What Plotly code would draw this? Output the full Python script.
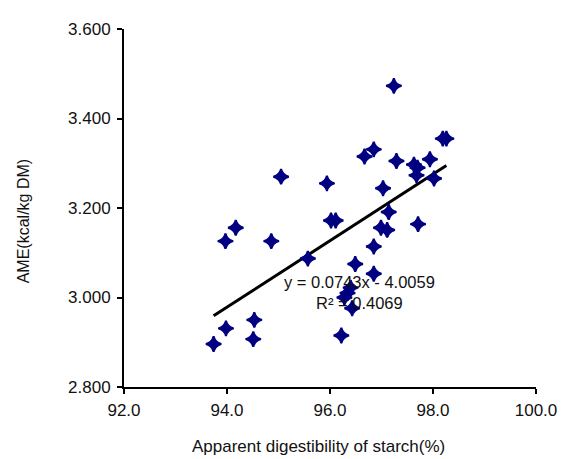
import plotly.graph_objects as go

# Apparent digestibility of starch (%)
starch_digestibility = [
    97.24, 98.19, 98.26, 96.85, 96.67, 97.29, 97.94, 97.63, 97.70, 97.68,
    98.02, 95.05, 95.94, 97.03, 96.02, 96.11, 97.14, 94.17, 96.99, 97.11,
    97.71, 93.97, 94.86, 96.85, 95.57, 96.49, 96.85, 96.28, 96.34, 96.40,
    96.43, 94.53, 93.98, 94.51, 96.22, 93.74,
]
# AME (kcal/kg DM)
ame_values = [
    3.473, 3.355, 3.355, 3.331, 3.315, 3.305, 3.309, 3.297, 3.290, 3.273,
    3.266, 3.270, 3.255, 3.244, 3.172, 3.172, 3.191, 3.156, 3.156, 3.151,
    3.164, 3.126, 3.126, 3.114, 3.087, 3.075, 3.053, 3.000, 3.010, 3.022,
    2.976, 2.950, 2.931, 2.907, 2.915, 2.896,
]

trend_slope = 0.0743
trend_intercept = -4.0059
equation_text = "y = 0.0743x - 4.0059"
r2_text = "R² = 0.4069"

x_title = "Apparent digestibility of starch(%)"
y_title = "AME(kcal/kg DM)"

x_lo, x_hi = min(starch_digestibility), max(starch_digestibility)
trend_x = [x_lo, x_hi]
trend_y = [trend_slope * v + trend_intercept for v in trend_x]

FONT = "Liberation Sans, Arial, sans-serif"
TXT = "#111111"

fig = go.Figure()
fig.add_trace(go.Scatter(
    x=trend_x, y=trend_y, mode="lines",
    line=dict(color="black", width=3),
    showlegend=False, hoverinfo="skip",
))
fig.add_trace(go.Scatter(
    x=starch_digestibility, y=ame_values, mode="markers",
    marker=dict(symbol="star-diamond", size=11, color="#000080",
                line=dict(width=2, color="#000080")),
    showlegend=False,
))

fig.add_annotation(x=96.58, y=3.034, xref="x", yref="y",
                   xanchor="center", yanchor="middle",
                   text=equation_text, showarrow=False,
                   font=dict(family=FONT, size=16.5, color=TXT))
fig.add_annotation(x=96.58, y=2.988, xref="x", yref="y",
                   xanchor="center", yanchor="middle",
                   text=r2_text, showarrow=False,
                   font=dict(family=FONT, size=16.5, color=TXT))

fig.add_annotation(x=0.4726, y=-0.165, xref="paper", yref="paper",
                   xanchor="center", yanchor="middle",
                   text=x_title, showarrow=False,
                   font=dict(family=FONT, size=17, color=TXT))
fig.add_annotation(x=-0.2434, y=0.462, xref="paper", yref="paper",
                   xanchor="center", yanchor="middle",
                   text=y_title, showarrow=False, textangle=-90,
                   font=dict(family=FONT, size=16, color=TXT))

fig.update_layout(
    width=561, height=451,
    margin=dict(l=116, r=26, t=12, b=72),
    paper_bgcolor="white", plot_bgcolor="white",
    font=dict(family=FONT, size=17, color=TXT),
)
fig.update_xaxes(
    range=[92, 100], dtick=2, tick0=92, tickformat=".1f",
    tickfont=dict(family=FONT, size=17, color=TXT),
    showgrid=False, zeroline=False, showline=True, linecolor="black",
    linewidth=2, ticks="outside", ticklen=5, tickwidth=2, tickcolor="black",
    ticklabelstandoff=2,
)
fig.update_yaxes(
    range=[2.8, 3.6], dtick=0.2, tick0=2.8, tickformat=".3f",
    tickfont=dict(family=FONT, size=17, color=TXT),
    showgrid=False, zeroline=False, showline=True, linecolor="black",
    linewidth=2, ticks="outside", ticklen=5, tickwidth=2, tickcolor="black",
    ticklabelstandoff=3,
)

fig.write_html("out.html")
